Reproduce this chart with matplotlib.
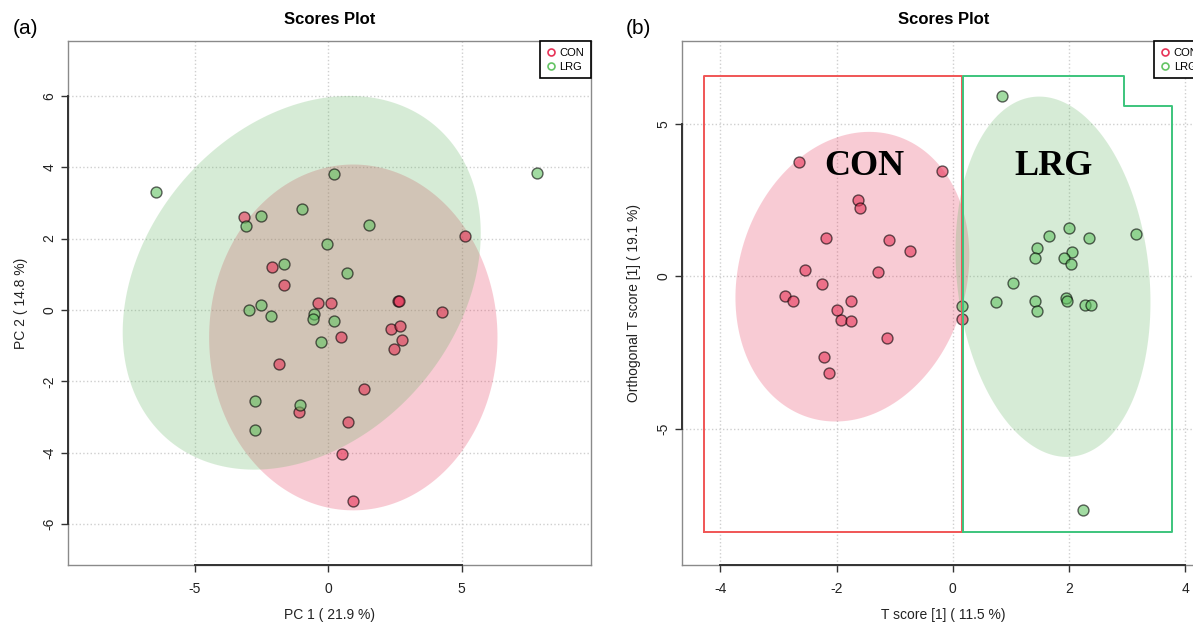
import numpy as np
import matplotlib
matplotlib.use("Agg")
import matplotlib.pyplot as plt
from matplotlib.lines import Line2D

plt.rcParams['font.family'] = ['Liberation Sans', 'DejaVu Sans']
plt.rcParams['axes.unicode_minus'] = False

groups = ["CON", "LRG"]

# (a) PCA scores
pca_con_x = [-3.15, 5.12, -2.09, -1.67, -0.37, 0.10, 2.63, 2.65, 4.28, 2.36,
             2.68, 0.47, 2.75, 2.47, -1.83, 1.33, -1.09, 0.73, 0.52, 0.94]
pca_con_y = [2.59, 2.06, 1.19, 0.71, 0.19, 0.19, 0.24, 0.25, -0.05, -0.52,
             -0.45, -0.75, -0.85, -1.08, -1.51, -2.20, -2.87, -3.14, -4.03, -5.36]
pca_lrg_x = [-6.47, 7.83, 0.23, -2.52, -3.09, -0.97, 1.53, -0.04, -1.65, 0.69,
             -2.98, -2.52, -2.15, -0.53, -0.57, 0.21, -0.26, -2.76, -1.07, -2.73]
pca_lrg_y = [3.30, 3.84, 3.81, 2.64, 2.36, 2.82, 2.37, 1.86, 1.28, 1.04,
             0.01, 0.15, -0.16, -0.10, -0.24, -0.30, -0.89, -2.56, -2.66, -3.36]

# (b) OPLS-DA scores
opls_con_x = [-2.65, -0.18, -1.64, -1.60, -2.19, -1.09, -0.73, -2.55, -1.29, -2.25,
              -2.88, -2.75, -1.76, -2.00, -1.93, -1.76, -1.13, -2.22, -2.13, 0.16]
opls_con_y = [3.76, 3.46, 2.50, 2.26, 1.26, 1.18, 0.83, 0.21, 0.14, -0.26,
              -0.64, -0.81, -0.82, -1.11, -1.43, -1.45, -2.02, -2.64, -3.18, -1.40]
opls_lrg_x = [0.84, 2.00, 1.66, 2.34, 3.16, 1.45, 1.41, 2.05, 1.91, 2.04,
              1.04, 0.74, 1.41, 1.45, 1.95, 1.97, 2.28, 2.38, 0.15, 2.24]
opls_lrg_y = [5.93, 1.58, 1.34, 1.26, 1.38, 0.92, 0.59, 0.79, 0.61, 0.41,
              -0.20, -0.85, -0.79, -1.14, -0.72, -0.80, -0.94, -0.92, -0.98, -7.67]

# hand drawn group boxes in (b)
con_box_x = [-4.28, 0.15, 0.15, -4.28, -4.28]
con_box_y = [-8.39, -8.39, 6.56, 6.56, -8.39]
lrg_box_x = [0.17, 0.17, 2.94, 2.94, 3.77, 3.77, 0.17]
lrg_box_y = [-8.39, 6.56, 6.56, 5.59, 5.59, -8.39, -8.39]

col_con = '#E73357'
col_lrg = '#5FB35F'


def conf_ellipse(x, y, chi2=5.991, n=300):
    # 95% confidence ellipse from the group covariance
    x = np.asarray(x)
    y = np.asarray(y)
    vals, vecs = np.linalg.eigh(np.cov(x, y))
    t = np.linspace(0, 2 * np.pi, n)
    circ = np.vstack([np.cos(t), np.sin(t)])
    pts = vecs @ (np.sqrt(vals * chi2)[:, None] * circ)
    return x.mean() + pts[0], y.mean() + pts[1]


def style_axes(ax, xticks, yticks, xlim, ylim):
    ax.set_xlim(xlim)
    ax.set_ylim(ylim)
    ax.set_xticks(xticks)
    ax.set_yticks(yticks)
    ax.grid(True, color='#cfcfcf', linestyle=':', linewidth=1)
    ax.set_axisbelow(True)
    for s in ax.spines.values():
        s.set_color('#8a8a8a')
        s.set_linewidth(1.0)
    ax.tick_params(direction='out', length=5, width=1, color='#333333',
                   labelsize=10, labelcolor='#222222')
    ax.tick_params(axis='x', pad=7)
    ax.tick_params(axis='y', pad=3.5, labelrotation=90)
    plt.setp(ax.get_yticklabels(), va='center')
    # R style axis lines from first to last tick
    ax.plot([xticks[0], xticks[-1]], [0, 0], transform=ax.get_xaxis_transform(),
            color='#333333', lw=1.4, clip_on=False, zorder=5)
    ax.plot([0, 0], [yticks[0], yticks[-1]], transform=ax.get_yaxis_transform(),
            color='#333333', lw=1.4, clip_on=False, zorder=5)


def scores(ax, cx, cy, lx, ly):
    ex, ey = conf_ellipse(cx, cy)
    ax.fill(ex, ey, color=col_con, alpha=0.25, lw=0, zorder=1)
    ex, ey = conf_ellipse(lx, ly)
    ax.fill(ex, ey, color=col_lrg, alpha=0.25, lw=0, zorder=1)
    ax.scatter(cx, cy, s=62, c=col_con, alpha=0.6, edgecolors='black', linewidths=1.0, zorder=3)
    ax.scatter(lx, ly, s=62, c='#64C464', alpha=0.6, edgecolors='black', linewidths=1.0, zorder=3)
    handles = [Line2D([], [], ls='', marker='o', mfc='none', mec=c, mew=1.2, ms=5)
               for c in (col_con, '#64C464')]
    leg = ax.legend(handles, groups, loc='upper right', borderaxespad=0, fancybox=False,
                    edgecolor='black', framealpha=1, fontsize=8, handlelength=0.8,
                    handletextpad=0.4, borderpad=0.6, labelspacing=0.35)
    leg.get_frame().set_linewidth(1.2)
    leg.set_zorder(10)
    ax.text(0.5, 1 + 21 / 524, "Scores Plot", transform=ax.transAxes, ha='center',
            va='center', fontsize=12, fontweight='bold')


fig = plt.figure(figsize=(11.93, 6.24), dpi=100)

ax1 = fig.add_axes([0.0570, 0.0946, 0.4384, 0.8397])
scores(ax1, pca_con_x, pca_con_y, pca_lrg_x, pca_lrg_y)
style_axes(ax1, [-5, 0, 5], [-6, -4, -2, 0, 2, 4, 6], (-9.75, 9.85), (-7.14, 7.53))
ax1.set_xlabel("PC 1 ( 21.9 %)", fontsize=10, color='#222222', va='center')
ax1.xaxis.set_label_coords(0.5, -50 / 524)
ax1.set_ylabel("PC 2 ( 14.8 %)", fontsize=10, color='#222222', va='center')
ax1.yaxis.set_label_coords(-47 / 523, 0.5)

ax2 = fig.add_axes([0.5717, 0.0946, 0.4384, 0.8397])
scores(ax2, opls_con_x, opls_con_y, opls_lrg_x, opls_lrg_y)
ax2.plot(con_box_x, con_box_y, color='#F05555', lw=1.4, zorder=6)
ax2.plot(lrg_box_x, lrg_box_y, color='#3CC47C', lw=1.4, zorder=6)
ax2.text(-1.52, 3.61, "CON", ha='center', va='center', fontsize=26, fontweight='bold',
         family=['Liberation Serif', 'DejaVu Serif'], zorder=7)
ax2.text(1.73, 3.61, "LRG", ha='center', va='center', fontsize=26, fontweight='bold',
         family=['Liberation Serif', 'DejaVu Serif'], zorder=7)
style_axes(ax2, [-4, -2, 0, 2, 4], [-5, 0, 5], (-4.66, 4.34), (-9.46, 7.72))
ax2.set_xlabel("T score [1] ( 11.5 %)", fontsize=10, color='#222222', va='center')
ax2.xaxis.set_label_coords(0.5, -50 / 524)
ax2.set_ylabel("Orthogonal T score [1] ( 19.1 %)", fontsize=10, color='#222222', va='center')
ax2.yaxis.set_label_coords(-48 / 523, 0.5)

fig.text(26 / 1193, 1 - 28 / 624, "(a)", fontsize=15, ha='center', va='center')
fig.text(638 / 1193, 1 - 28 / 624, "(b)", fontsize=15, ha='center', va='center')

fig.savefig("out.png", dpi=100)
